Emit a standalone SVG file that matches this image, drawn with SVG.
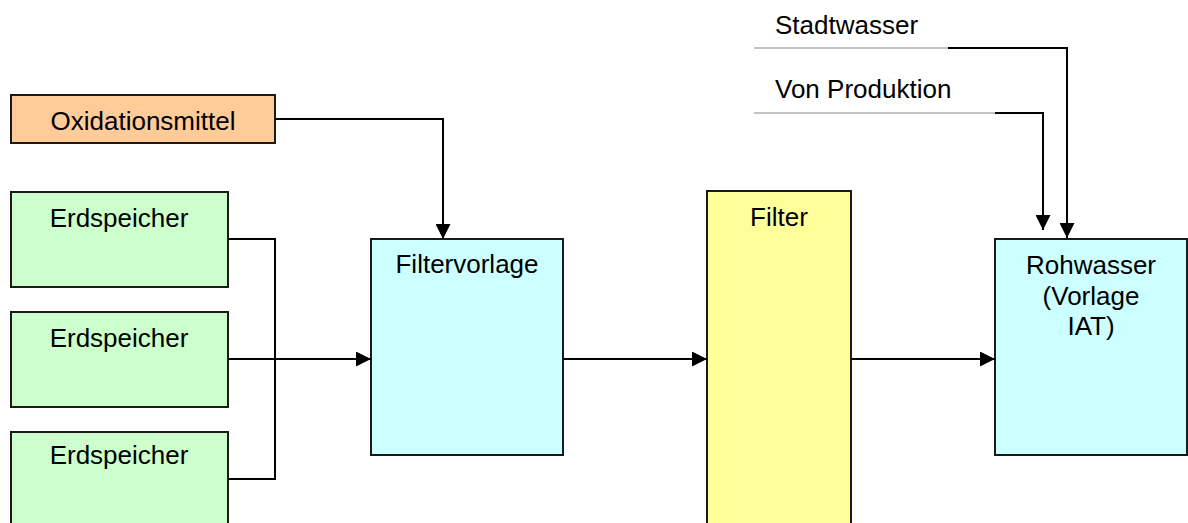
<svg xmlns="http://www.w3.org/2000/svg" width="1188" height="523" viewBox="0 0 1188 523">
  <style>
    .box { stroke: #1a1a1a; stroke-width: 2; }
    .orange { fill: #ffcc99; }
    .green { fill: #ccffcc; }
    .cyan { fill: #ccffff; }
    .yellow { fill: #ffff99; }
    .lbl { font-family: "Liberation Sans", Arial, sans-serif; font-size: 26px; fill: #000; text-anchor: middle; }
    .src { font-family: "Liberation Sans", Arial, sans-serif; font-size: 26px; fill: #000; }
    .wire { fill: none; stroke: #000; stroke-width: 2; }
    .feed { fill: none; stroke: #888; stroke-width: 1.2; }
  </style>
  <defs>
    <marker id="arrow" markerWidth="15" markerHeight="15" refX="15" refY="7.5" orient="auto" markerUnits="userSpaceOnUse">
      <path d="M0,0 L15,7.5 L0,15 Z" fill="#000"/>
    </marker>
  </defs>
  <rect width="1188" height="523" fill="#fff"/>

  <g id="oxidationsmittel">
    <rect class="box orange" x="11" y="95" width="264" height="48"/>
    <text class="lbl" x="143" y="130">Oxidationsmittel</text>
  </g>
  <g id="erdspeicher-1">
    <rect class="box green" x="11" y="192" width="217" height="95"/>
    <text class="lbl" x="119" y="227">Erdspeicher</text>
  </g>
  <g id="erdspeicher-2">
    <rect class="box green" x="11" y="312" width="217" height="95"/>
    <text class="lbl" x="119" y="347">Erdspeicher</text>
  </g>
  <g id="erdspeicher-3">
    <rect class="box green" x="11" y="432" width="217" height="110"/>
    <text class="lbl" x="119" y="464">Erdspeicher</text>
  </g>
  <g id="filtervorlage">
    <rect class="box cyan" x="371" y="239" width="192" height="216"/>
    <text class="lbl" x="467" y="273">Filtervorlage</text>
  </g>
  <g id="filter">
    <rect class="box yellow" x="707" y="191" width="144" height="350"/>
    <text class="lbl" x="779" y="226">Filter</text>
  </g>
  <g id="rohwasser">
    <rect class="box cyan" x="995" y="239" width="192" height="216"/>
    <text class="lbl" x="1091" y="274">Rohwasser</text>
    <text class="lbl" x="1091" y="305">(Vorlage</text>
    <text class="lbl" x="1091" y="335">IAT)</text>
  </g>
  <g id="stadtwasser">
    <text class="src" x="775" y="34">Stadtwasser</text>
    <line class="feed" x1="754" y1="48" x2="948" y2="48"/>
  </g>
  <g id="von-produktion">
    <text class="src" x="775" y="98">Von Produktion</text>
    <line class="feed" x1="754" y1="113" x2="995" y2="113"/>
  </g>

  <g id="connectors">
    <polyline class="wire" points="275,119 443,119 443,239" marker-end="url(#arrow)"/>
    <polyline class="wire" points="228,239 275,239 275,479 228,479"/>
    <line class="wire" x1="228" y1="359" x2="371" y2="359" marker-end="url(#arrow)"/>
    <line class="wire" x1="563" y1="359" x2="707" y2="359" marker-end="url(#arrow)"/>
    <line class="wire" x1="851" y1="359" x2="995" y2="359" marker-end="url(#arrow)"/>
    <polyline class="wire" points="948,48 1067,48 1067,238" marker-end="url(#arrow)"/>
    <polyline class="wire" points="995,113 1043,113 1043,230" marker-end="url(#arrow)"/>
  </g>
</svg>
